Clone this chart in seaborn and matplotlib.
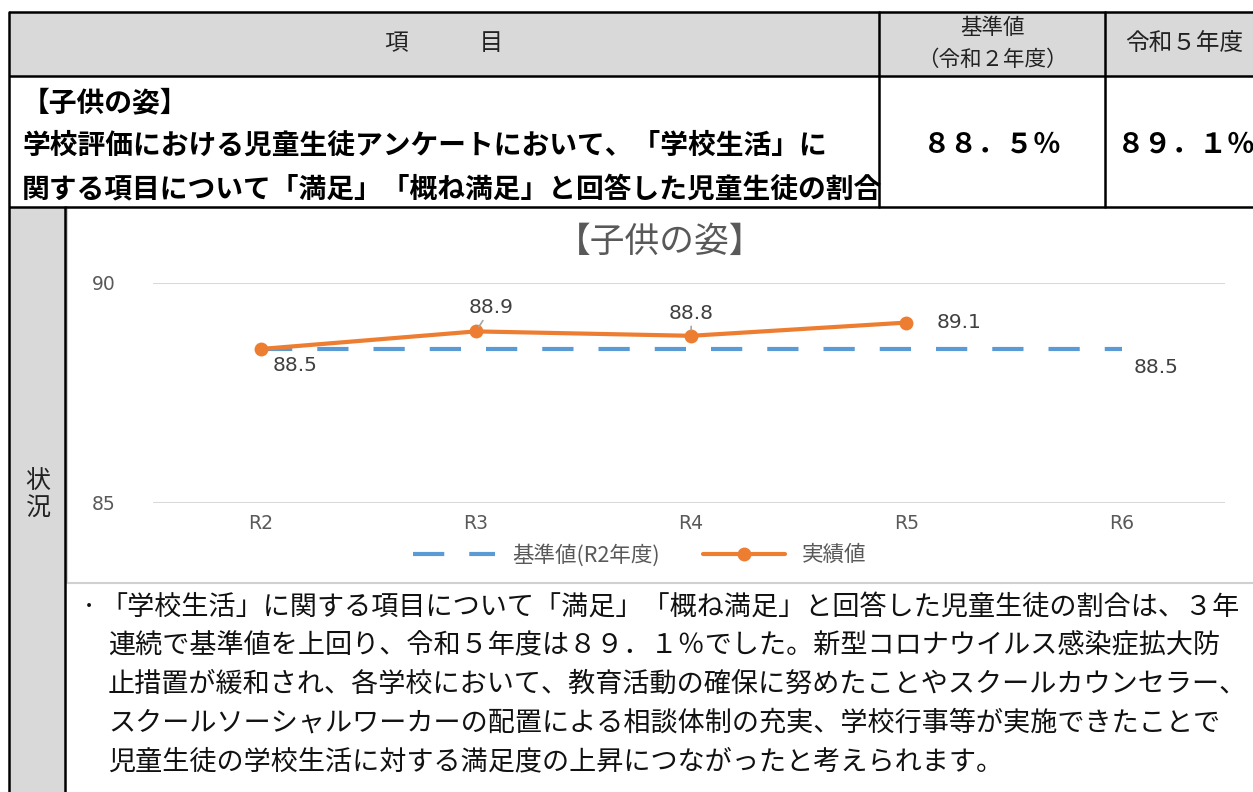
import numpy as np
import pandas as pd
import matplotlib
matplotlib.use("Agg")
import matplotlib.pyplot as plt
import seaborn as sns
from matplotlib.patches import Rectangle

# DATA

years = ["R2", "R3", "R4", "R5", "R6"]
baseline = [88.5, 88.5, 88.5, 88.5, 88.5]
actual_years = ["R2", "R3", "R4", "R5"]
actual = [88.5, 88.9, 88.8, 89.1]

chart_title = "【子供の姿】"
baseline_label = "基準値(R2年度)"
actual_label = "実績値"

header_item = "項　　　目"
header_base = ["基準値", "（令和２年度）"]
header_now = "令和５年度"
item_lines = [
    "【子供の姿】",
    "学校評価における児童生徒アンケートにおいて、「学校生活」に",
    "関する項目について「満足」「概ね満足」と回答した児童生徒の割合",
]
base_value_text = "８８．５％"
now_value_text = "８９．１％"
side_label = "状\n況"
comment_lines = [
    "「学校生活」に関する項目について「満足」「概ね満足」と回答した児童生徒の割合は、３年",
    "連続で基準値を上回り、令和５年度は８９．１％でした。新型コロナウイルス感染症拡大防",
    "止措置が緩和され、各学校において、教育活動の確保に努めたことやスクールカウンセラー、",
    "スクールソーシャルワーカーの配置による相談体制の充実、学校行事等が実施できたことで",
    "児童生徒の学校生活に対する満足度の上昇につながったと考えられます。",
]

# STYLE

sns.set_theme(style="white")
plt.rcParams["font.family"] = ["DejaVu Sans", "Noto Sans CJK JP"]

W, H = 1253, 792
fig = plt.figure(figsize=(W / 100, H / 100), dpi=100)

# background axes in pixel coordinates for the table
bg = fig.add_axes([0, 0, 1, 1], zorder=0)
bg.set_xlim(0, W)
bg.set_ylim(H, 0)
bg.axis("off")

gray = "#d9d9d9"
bg.add_patch(Rectangle((9, 12), W - 9, 64, color=gray, lw=0))
bg.add_patch(Rectangle((9, 207), 56, H - 207, color=gray, lw=0))

# chart frame (light)
bg.plot([67, 67], [207, 583], color="#d0d0d0", lw=1.5)
bg.plot([67, W], [583, 583], color="#d0d0d0", lw=1.5)

lw_b = 1.8
for yy in [12, 76, 207]:
    bg.plot([9, W], [yy, yy], color="black", lw=lw_b, solid_capstyle="butt")
bg.plot([9, 9], [12, H], color="black", lw=lw_b)
bg.plot([879, 879], [12, 207], color="black", lw=lw_b)
bg.plot([1105, 1105], [12, 207], color="black", lw=lw_b)
bg.plot([65, 65], [207, H], color="black", lw=lw_b)

jp = ["Noto Sans CJK JP", "DejaVu Sans"]

bg.text(444, 44, header_item, ha="center", va="center", fontsize=17,
        family=jp, color="#222222")
bg.text(992, 28, header_base[0], ha="center", va="center", fontsize=15.5,
        family=jp, color="#222222")
bg.text(992, 60, header_base[1], ha="center", va="center", fontsize=15.5,
        family=jp, color="#222222")
bg.text(1184, 44, header_now, ha="center", va="center", fontsize=17,
        family=jp, color="#222222")

for i, line in enumerate(item_lines):
    bg.text(22, 103 + 43 * i, line, ha="left", va="center", fontsize=20,
            family=jp, fontweight="bold", color="black")
bg.text(992, 145, base_value_text, ha="center", va="center", fontsize=20,
        family=jp, fontweight="bold", color="black")
bg.text(1186, 145, now_value_text, ha="center", va="center", fontsize=20,
        family=jp, fontweight="bold", color="black")

bg.text(38, 495, side_label, ha="center", va="center", fontsize=18,
        family=jp, color="#222222", linespacing=1.1)

bg.text(98, 607, "・", ha="right", va="center", fontsize=13,
        family=jp, color="#111111")
for i, line in enumerate(comment_lines):
    x0 = 100 if i == 0 else 108
    bg.text(x0, 607 + 38.8 * i, line, ha="left", va="center", fontsize=19.5,
            family=jp, color="#111111")

# CHART

ax = fig.add_axes([153 / W, 1 - 503 / H, (1225 - 153) / W, (503 - 283) / H],
                  zorder=2)
ax.patch.set_alpha(0)

sns.lineplot(x=years, y=baseline, ax=ax, color="#5b9bd5", lw=3,
             linestyle=(0, (7.5, 6)), label=baseline_label, sort=False)
sns.lineplot(x=actual_years, y=actual, ax=ax, color="#ed7d31", lw=3,
             marker="o", markersize=10, markeredgewidth=0,
             label=actual_label, sort=False)

ax.set_ylim(85, 90)
ax.set_yticks([85, 90])
ax.set_xlim(-0.5, 4.48)
ax.grid(axis="y", color="#d9d9d9", lw=1.5)
ax.grid(axis="x", visible=False)
for s in ax.spines.values():
    s.set_visible(False)
ax.tick_params(axis="y", length=0, pad=27, labelsize=13.5, labelcolor="#595959")
ax.tick_params(axis="x", length=0, pad=8, labelsize=13.5, labelcolor="#595959")
ax.set_xlabel("")
ax.set_ylabel("")

lab_kw = dict(fontsize=14.5, color="#404040", ha="center", va="center",
              textcoords="offset points")
lead = dict(arrowstyle="-", color="#a6a6a6", lw=1.2, shrinkA=0, shrinkB=4)
ax.annotate(f"{actual[0]}", (0, actual[0]), xytext=(25, -12), **lab_kw)
ax.annotate(f"{actual[1]}", (1, actual[1]), xytext=(11, 17),
            arrowprops=lead, **lab_kw)
ax.annotate(f"{actual[2]}", (2, actual[2]), xytext=(0, 16),
            arrowprops=lead, **lab_kw)
ax.annotate(f"{actual[3]}", (3, actual[3]), xytext=(38, 0), **lab_kw)
ax.annotate(f"{baseline[4]}", (4, baseline[4]), xytext=(25, -13), **lab_kw)

leg = ax.legend(loc="center", bbox_to_anchor=(640 / W, 1 - 555 / H),
                bbox_transform=fig.transFigure, ncol=2, frameon=False,
                fontsize=15.5, handlelength=3.8, columnspacing=2.0,
                labelcolor="#595959")
for t in leg.get_texts():
    t.set_family(["Noto Sans CJK JP", "DejaVu Sans"])

fig.text(660 / W, 1 - 242 / H, chart_title, ha="center", va="center",
         fontsize=25, color="#595959", family=jp)

fig.savefig("out.png", dpi=100)
